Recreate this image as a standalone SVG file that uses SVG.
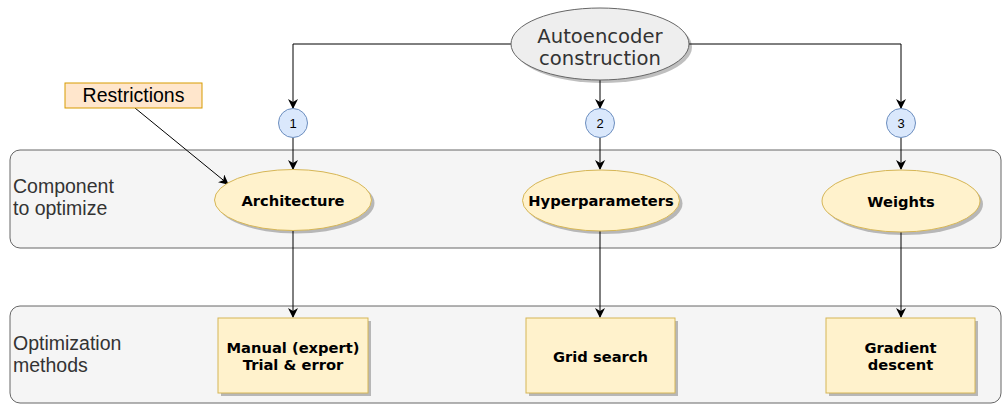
<svg xmlns="http://www.w3.org/2000/svg" width="1003" height="404" viewBox="0 0 1003 404">
<defs>
<style>
.sec{fill:#f5f5f5;stroke:#666666;stroke-width:1}
.lbl{font-family:"Liberation Sans",Arial,sans-serif;font-size:19.5px;fill:#333333}
.comp{fill:#fff2cc;stroke:#d6b656;stroke-width:1}
.bt{font-family:"DejaVu Sans",Verdana,sans-serif;font-size:14.7px;font-weight:bold;fill:#000000;text-anchor:middle}
.num{fill:#dae8fc;stroke:#6c8ebf;stroke-width:1}
.nt{font-family:"Liberation Sans",Arial,sans-serif;font-size:13px;fill:#000000;text-anchor:middle}
.edge{fill:none;stroke:#000000;stroke-width:1}
.sh{fill:#000000;opacity:0.25}
</style>
<marker id="arr" viewBox="0 0 10 10" refX="9" refY="5" markerWidth="10" markerHeight="10" markerUnits="userSpaceOnUse" orient="auto">
<path d="M0,0 L10,5 L0,10 L3,5 Z" fill="#000000"/>
</marker>
</defs>
<rect x="0" y="0" width="1003" height="404" fill="#ffffff"/>

<g id="section-component">
<rect class="sec" x="10" y="150" width="991" height="98" rx="10" ry="10"/>
<text class="lbl" x="13" y="193">Component</text>
<text class="lbl" x="13" y="215">to optimize</text>
</g>
<g id="section-methods">
<rect class="sec" x="10" y="306" width="991" height="97" rx="10" ry="10"/>
<text class="lbl" x="13" y="350">Optimization</text>
<text class="lbl" x="13" y="372">methods</text>
</g>

<g id="connectors">
<path class="edge" d="M511,44 L293,44 L293,108" marker-end="url(#arr)"/>
<path class="edge" d="M600,80 L600,108" marker-end="url(#arr)"/>
<path class="edge" d="M689,44 L901,44 L901,108" marker-end="url(#arr)"/>
<path class="edge" d="M293,138 L293,169" marker-end="url(#arr)"/>
<path class="edge" d="M600,138 L600,169" marker-end="url(#arr)"/>
<path class="edge" d="M901,138 L901,169" marker-end="url(#arr)"/>
<path class="edge" d="M293,231 L293,317" marker-end="url(#arr)"/>
<path class="edge" d="M600,231 L600,317" marker-end="url(#arr)"/>
<path class="edge" d="M901,232 L901,317" marker-end="url(#arr)"/>
<path class="edge" d="M135,108 L228,184" marker-end="url(#arr)"/>
</g>

<g id="autoencoder">
<ellipse class="sh" cx="603" cy="47" rx="89" ry="36"/>
<ellipse cx="600" cy="44" rx="89" ry="36" fill="#eeeeee" stroke="#666666" stroke-width="1"/>
<text x="600" y="43" font-family="DejaVu Sans,Verdana,sans-serif" font-size="19.6" fill="#333333" text-anchor="middle">Autoencoder</text>
<text x="600" y="65" font-family="DejaVu Sans,Verdana,sans-serif" font-size="19.6" fill="#333333" text-anchor="middle">construction</text>
</g>

<g id="restrictions">
<rect x="65" y="83" width="137" height="25" fill="#ffe6cc" stroke="#d79b00" stroke-width="1"/>
<text x="133.5" y="101.5" font-family="Liberation Sans,Arial,sans-serif" font-size="19.5" fill="#000000" text-anchor="middle">Restrictions</text>
</g>

<g id="n1">
<circle class="num" cx="293" cy="123" r="14.5"/>
<text class="nt" x="293" y="127.5">1</text>
</g>
<g id="n2">
<circle class="num" cx="600" cy="123" r="14.5"/>
<text class="nt" x="600" y="127.5">2</text>
</g>
<g id="n3">
<circle class="num" cx="901" cy="123" r="14.5"/>
<text class="nt" x="901" y="127.5">3</text>
</g>

<g id="architecture">
<ellipse class="sh" cx="296" cy="203" rx="78.5" ry="30.5"/>
<ellipse class="comp" cx="293" cy="200" rx="78.5" ry="30.5"/>
<text class="bt" x="293" y="206">Architecture</text>
</g>
<g id="hyperparameters">
<ellipse class="sh" cx="604" cy="203.5" rx="78.5" ry="30.5"/>
<ellipse class="comp" cx="601" cy="200.5" rx="78.5" ry="30.5"/>
<text class="bt" x="601" y="206">Hyperparameters</text>
</g>
<g id="weights">
<ellipse class="sh" cx="904" cy="204" rx="79" ry="31"/>
<ellipse class="comp" cx="901" cy="201" rx="79" ry="31"/>
<text class="bt" x="901" y="206.5">Weights</text>
</g>

<g id="manual">
<rect class="sh" x="221" y="321" width="150" height="75"/>
<rect class="comp" x="218" y="318" width="150" height="75"/>
<text class="bt" x="293" y="353">Manual (expert)</text>
<text class="bt" x="293" y="369.5">Trial &amp; error</text>
</g>
<g id="grid">
<rect class="sh" x="529" y="321" width="149" height="75"/>
<rect class="comp" x="526" y="318" width="149" height="75"/>
<text class="bt" x="600.5" y="362">Grid search</text>
</g>
<g id="gradient">
<rect class="sh" x="829" y="321" width="149" height="75"/>
<rect class="comp" x="826" y="318" width="149" height="75"/>
<text class="bt" x="900.5" y="353">Gradient</text>
<text class="bt" x="900.5" y="369.5">descent</text>
</g>
</svg>
